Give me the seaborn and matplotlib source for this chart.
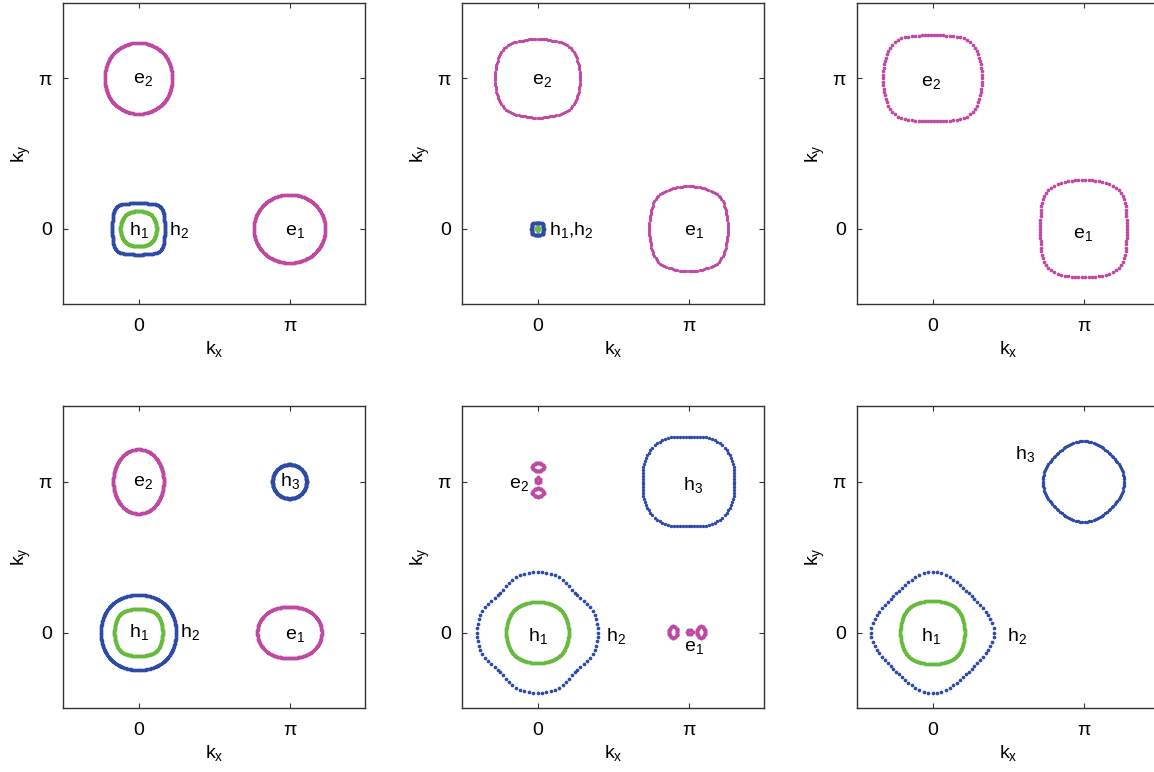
import numpy as np
import matplotlib
matplotlib.use('Agg')
import matplotlib.pyplot as plt
import seaborn as sns

# Fermi surfaces, six panels (k in units of pi)
sns.set_style('ticks')
plt.rcParams['font.family'] = ['Liberation Sans', 'DejaVu Sans']
plt.rcParams['mathtext.default'] = 'regular'
plt.rcParams['text.color'] = 'black'
plt.rcParams['axes.labelcolor'] = 'black'
plt.rcParams['xtick.labelcolor'] = 'black'
plt.rcParams['ytick.labelcolor'] = 'black'

# one row per pocket: panel, band, centre (kx, ky), radius read at 0, 22.5, 45, 67.5, 90 degrees
contour_panel = [0, 0, 0, 0,
                 1, 1, 1, 1,
                 2, 2,
                 3, 3, 3, 3, 3,
                 4, 4, 4, 4, 4, 4, 4, 4, 4,
                 5, 5, 5]
contour_band = ['e2', 'e1', 'h2', 'h1',
                'e2', 'e1', 'h2', 'h1',
                'e2', 'e1',
                'e2', 'h3', 'h2', 'h1', 'e1',
                'h3', 'h2', 'h1', 'e2', 'e2', 'e2', 'e1', 'e1', 'e1',
                'h3', 'h2', 'h1']
center_kx = [0, 1, 0, 0,
             0, 1, 0, 0,
             0, 1,
             0, 1, 0, 0, 1,
             1, 0, 0, 0.003, 0.003, 0.003, 0.90, 1.007, 1.083,
             1, 0, 0]
center_ky = [1, 0, 0, 0,
             1, 0, 0, 0,
             1, 0,
             1, 1, 0, 0, 0,
             1, 0, 0, 1.097, 1.007, 0.927, 0.003, 0.003, 0.003,
             1, 0, 0]
radius_rows = [
    [0.223, 0.227, 0.233, 0.235, 0.237],
    [0.237, 0.236, 0.233, 0.229, 0.227],
    [0.177, 0.184, 0.205, 0.181, 0.173],
    [0.120, 0.121, 0.124, 0.120, 0.117],
    [0.283, 0.288, 0.296, 0.270, 0.263],
    [0.263, 0.270, 0.296, 0.288, 0.283],
    [0.040, 0.042, 0.048, 0.042, 0.040],
    [0.013, 0.013, 0.015, 0.013, 0.013],
    [0.330, 0.336, 0.345, 0.305, 0.287],
    [0.287, 0.305, 0.345, 0.336, 0.323],
    [0.167, 0.172, 0.187, 0.205, 0.213],
    [0.113, 0.113, 0.113, 0.113, 0.113],
    [0.250, 0.252, 0.256, 0.252, 0.250],
    [0.160, 0.163, 0.171, 0.162, 0.157],
    [0.213, 0.207, 0.193, 0.177, 0.170],
    [0.303, 0.318, 0.328, 0.315, 0.297],
    [0.400, 0.390, 0.360, 0.390, 0.400],
    [0.207, 0.210, 0.214, 0.207, 0.203],
    [0.037, 0.034, 0.031, 0.028, 0.027],
    [0.013, 0.014, 0.016, 0.019, 0.020],
    [0.037, 0.034, 0.031, 0.028, 0.027],
    [0.027, 0.028, 0.031, 0.034, 0.037],
    [0.020, 0.019, 0.016, 0.014, 0.013],
    [0.027, 0.028, 0.031, 0.034, 0.037],
    [0.270, 0.261, 0.254, 0.259, 0.267],
    [0.407, 0.375, 0.353, 0.375, 0.400],
    [0.213, 0.217, 0.224, 0.215, 0.210],
]

# pocket labels: panel, text, kx, ky (baseline), alignment
label_panel = [0, 0, 0, 0, 1, 1, 1, 2, 2, 3, 3, 3, 3, 3, 4, 4, 4, 4, 4, 5, 5, 5]
label_text = ['e$_2$', 'h$_1$', 'h$_2$', 'e$_1$',
              'e$_2$', 'h$_1$,h$_2$', 'e$_1$',
              'e$_2$', 'e$_1$',
              'e$_2$', 'h$_3$', 'h$_1$', 'h$_2$', 'e$_1$',
              'e$_2$', 'h$_3$', 'h$_1$', 'h$_2$', 'e$_1$',
              'h$_3$', 'h$_1$', 'h$_2$']
label_kx = [0.03, 0.0, 0.27, 1.037,
            0.03, 0.073, 1.037,
            -0.007, 0.997,
            0.03, 1.003, 0.0, 0.34, 1.037,
            -0.123, 1.033, 0.003, 0.52, 1.033,
            0.613, -0.01, 0.557]
label_ky = [0.967, -0.04, -0.04, -0.04,
            0.96, -0.04, -0.04,
            0.947, -0.06,
            0.967, 0.967, -0.033, -0.033, -0.04,
            0.955, 0.947, -0.053, -0.053, -0.12,
            1.147, -0.053, -0.053]
label_ha = ['center'] * 5 + ['left'] + ['center'] * 16

tick_values = [0, np.pi]
tick_labels = ['0', '\u03c0']

# styling
band_colors = {'e': '#bf48a2', 'h1': '#66bb3f', 'h2': '#2c4aa6', 'h3': '#2c4aa6'}
n_points = [360, 360, 360, 360,
            120, 120, 40, 16,
            90, 90,
            360, 360, 360, 360, 360,
            100, 84, 360, 16, 8, 16, 16, 8, 16,
            110, 84, 360]
dot_size = [6, 6, 6, 6,
            5.5, 5.5, 8, 4,
            7, 7,
            6, 6, 6, 6, 6,
            6, 7, 6, 9, 8, 9, 9, 8, 9,
            6, 7, 6]
FS = 14

ang = np.arange(5) * np.pi / 8
harm = np.cos(np.outer(ang, 2 * np.arange(5)))


def outline(cx, cy, radii, n):
    coef = np.linalg.solve(harm, np.array(radii))
    t = np.linspace(0, 2 * np.pi, n, endpoint=False)
    r = np.cos(np.outer(t, 2 * np.arange(5))) @ coef
    return (cx + r * np.cos(t)) * np.pi, (cy + r * np.sin(t)) * np.pi


W, H = 1154, 772
fig = plt.figure(figsize=(W / 100, H / 100), dpi=100)
lefts = [63, 462, 857]
rows = [(3, 304), (406, 708)]
axes = []
for top, bottom in rows:
    for left in lefts:
        ax = fig.add_axes([left / W, 1 - bottom / H, 302 / W, (bottom - top) / H])
        axes.append(ax)

for i in range(len(contour_panel)):
    ax = axes[contour_panel[i]]
    b = contour_band[i]
    col = band_colors['e'] if b.startswith('e') else band_colors[b]
    x, y = outline(center_kx[i], center_ky[i], radius_rows[i], n_points[i])
    sns.scatterplot(x=x, y=y, color=col, s=dot_size[i], linewidth=0,
                    ax=ax, legend=False, zorder=3)

for i in range(len(label_panel)):
    axes[label_panel[i]].text(label_kx[i] * np.pi, label_ky[i] * np.pi, label_text[i],
                              ha=label_ha[i], va='baseline', fontsize=FS, zorder=4)

for ax in axes:
    ax.set_xlim(-0.5 * np.pi, 1.5 * np.pi)
    ax.set_ylim(-0.5 * np.pi, 1.5 * np.pi)
    ax.set_xticks(tick_values)
    ax.set_xticklabels(tick_labels)
    ax.set_yticks(tick_values)
    ax.set_yticklabels(tick_labels)
    ax.tick_params(direction='in', length=3.5, width=0.8, top=True, right=True,
                   labelsize=FS, color='#333333')
    ax.tick_params(axis='x', pad=10)
    ax.tick_params(axis='y', pad=8)
    ax.set_xlabel('k$_x$', fontsize=FS, labelpad=3)
    ax.set_ylabel('k$_y$', fontsize=FS, labelpad=4)
    for sp in ax.spines.values():
        sp.set_linewidth(1.0)
        sp.set_color('#333333')

fig.savefig('out.png', dpi=100)
